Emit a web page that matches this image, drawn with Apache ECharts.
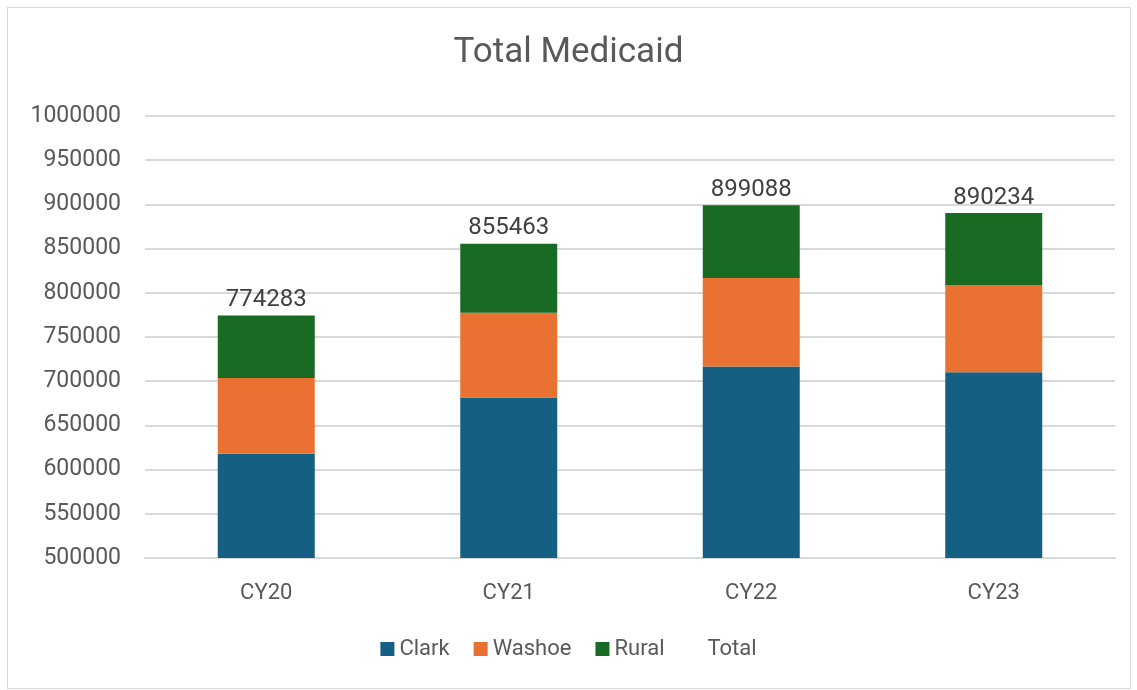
<!DOCTYPE html>
<html lang="en">

<head>
    <meta charset="UTF-8">
    <title>Total Medicaid</title>
    <style>
        html, body {
            margin: 0;
            padding: 0;
            background: #fff;
        }
        #frame {
            position: absolute;
            left: 7px;
            top: 7px;
            width: 1122px;
            height: 680px;
            border: 1px solid #d9d9d9;
        }
        #chart {
            position: absolute;
            left: 0;
            top: 0;
            width: 1137px;
            height: 690px;
        }
    </style>
</head>

<body>
    <div id="frame"></div>
    <div id="chart"></div>

    <script src="https://cdn.jsdelivr.net/npm/echarts@6/dist/echarts.min.js"></script>
    <script>
        var years = ['CY20', 'CY21', 'CY22', 'CY23'];
        var clark = [617900, 681700, 716600, 710100];
        var washoe = [85800, 95700, 100100, 98600];
        var total = [774283, 855463, 899088, 890234];
        // rural = whatever is left up to the total
        var rural = total.map(function(t, i) {
            return t - clark[i] - washoe[i];
        });

        var textColor = '#595959';
        var fontFam = 'Roboto, "Liberation Sans", sans-serif';

        var chart = echarts.init(document.getElementById('chart'));

        function barSeries(name, data, color) {
            return {
                name: name,
                type: 'bar',
                stack: 'all',
                barWidth: '40%',
                data: data,
                itemStyle: { color: color }
            };
        }

        chart.setOption({
            animation: false,
            textStyle: { fontFamily: fontFam },
            title: {
                text: 'Total Medicaid',
                left: 'center',
                top: 31,
                textStyle: {
                    color: textColor,
                    fontSize: 35,
                    fontWeight: 'normal',
                    fontFamily: fontFam
                }
            },
            grid: {
                left: 145,
                right: 22,
                top: 116,
                bottom: 132
            },
            legend: {
                bottom: 25,
                left: 'center',
                itemWidth: 14,
                itemHeight: 14,
                itemGap: 24,
                icon: 'rect',
                textStyle: { color: textColor, fontSize: 22 },
                data: ['Clark', 'Washoe', 'Rural', {
                    name: 'Total',
                    itemStyle: { color: 'rgba(0,0,0,0)', opacity: 0 }
                }]
            },
            xAxis: {
                type: 'category',
                data: years,
                axisLine: { show: true, lineStyle: { color: '#d9d9d9', width: 2 } },
                axisTick: { show: false },
                axisLabel: { color: textColor, fontSize: 22, margin: 24 }
            },
            yAxis: {
                type: 'value',
                min: 500000,
                max: 1000000,
                interval: 50000,
                axisLine: { show: false },
                axisTick: { show: false },
                axisLabel: {
                    color: textColor,
                    fontSize: 23,
                    margin: 24,
                    formatter: function(v) {
                        return String(v);
                    }
                },
                splitLine: { lineStyle: { color: '#d9d9d9', width: 2 } }
            },
            series: [
                barSeries('Clark', clark, '#156082'),
                barSeries('Washoe', washoe, '#e97132'),
                barSeries('Rural', rural, '#196b24'),
                {
                    name: 'Total',
                    type: 'line',
                    data: total,
                    symbol: 'circle',
                    symbolSize: 1,
                    lineStyle: { opacity: 0 },
                    itemStyle: { color: 'rgba(0,0,0,0)' },
                    label: {
                        show: true,
                        position: 'top',
                        distance: 3,
                        color: '#404040',
                        fontSize: 24
                    },
                    z: 5
                }
            ]
        });
    </script>
</body>

</html>
